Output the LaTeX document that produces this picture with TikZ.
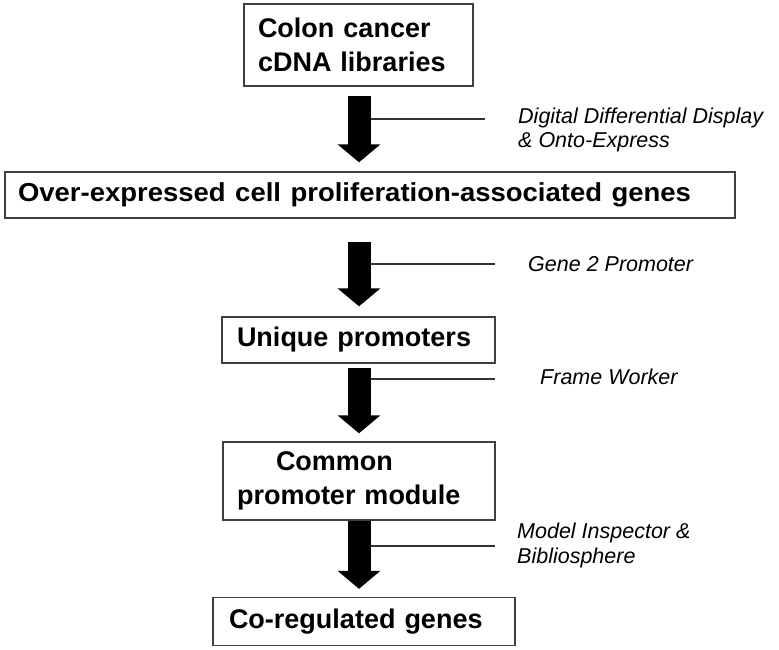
\documentclass[tikz,border=0pt]{standalone}
\usepackage{fontspec}
\setmainfont{Liberation Sans}
\usepackage{graphicx}
\usetikzlibrary{arrows.meta}
\begin{document}
\begin{tikzpicture}[x=1pt,y=-1pt,
  box/.style={draw=black!75, line width=1.4pt, inner ysep=0pt, align=left,
    font=\fontsize{27}{34}\selectfont\bfseries},
  lbl/.style={anchor=west, inner sep=0pt, align=left,
    font=\fontsize{21.5}{24.5}\selectfont\itshape},
  bigarrow/.style={line width=23pt, -{Triangle[width=42pt,length=18pt]}},
  sideline/.style={draw=black!80, line width=1.3pt}]
\useasboundingbox (0,0) rectangle (779,650);
\coordinate (ax) at (359,0);
% boxes
\node[box, inner xsep=14pt, text width=201pt, minimum height=82pt] (b1) at (358.5,45)
  {Colon cancer\\cDNA libraries};
\node[box, inner xsep=13pt, text width=704pt, minimum height=46pt] (b2) at (370,195)
  {\resizebox{673pt}{\height}{\fontsize{26}{30}\selectfont\bfseries Over-expressed cell proliferation-associated genes}};
\node[box, inner xsep=15pt, text width=243pt, minimum height=46pt] (b3) at (358.5,340)
  {Unique promoters};
\node[box, inner xsep=14pt, text width=244pt, minimum height=78pt] (b4) at (359,481)
  {\hspace*{39pt}Common\\promoter module};
\node[box, inner xsep=16pt, text width=270pt, minimum height=48pt] (b5) at (364,621.5)
  {Co-regulated genes};
% side lines
\coordinate (s1) at (485,119);
\coordinate (s2) at (495,264);
\coordinate (s3) at (495,379);
\coordinate (s4) at (495,546);
\draw[sideline] (s1 -| ax) -- (s1);
\draw[sideline] (s2 -| ax) -- (s2);
\draw[sideline] (s3 -| ax) -- (s3);
\draw[sideline] (s4 -| ax) -- (s4);
% arrows
\draw[bigarrow, shorten <=9pt, shorten >=9pt] (b1.south -| ax) -- (b2.north -| ax);
\draw[bigarrow, shorten <=23pt, shorten >=10pt] (b2.south -| ax) -- (b3.north -| ax);
\draw[bigarrow, shorten <=4pt, shorten >=8pt] (b3.south -| ax) -- (b4.north -| ax);
\draw[bigarrow, shorten <=0pt, shorten >=8pt] (b4.south -| ax) -- (b5.north -| ax);
% labels
\node[lbl] (l1) at (518,130) {Digital Differential Display\\\& Onto-Express};
\node[lbl] (l2) at (528,264) {Gene 2 Promoter};
\node[lbl] (l3) at (540,377) {Frame Worker};
\node[lbl] (l4) at (517,545.5) {Model Inspector \&\\Bibliosphere};
\end{tikzpicture}
\end{document}
